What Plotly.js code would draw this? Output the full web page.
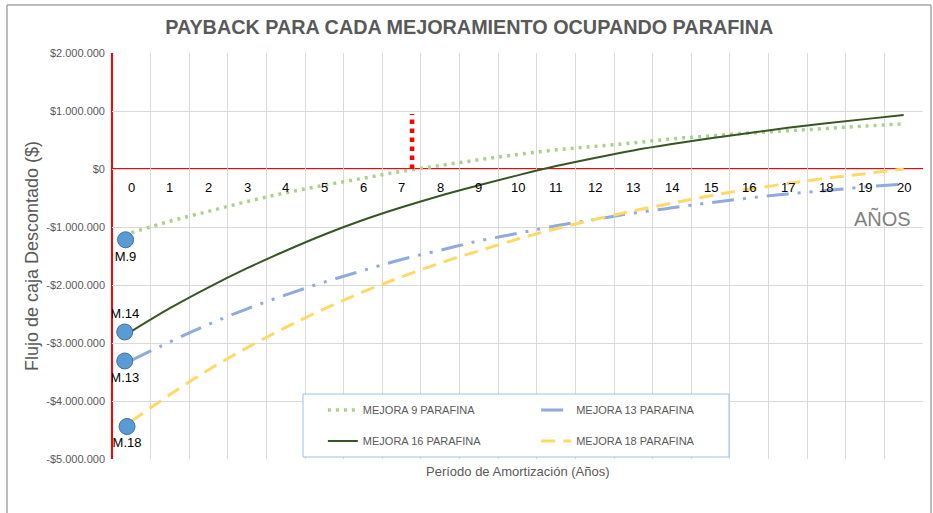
<!DOCTYPE html>
<html>
<head>
<meta charset="utf-8">
<script src="https://cdn.plot.ly/plotly-3.0.1.min.js"></script>
<style>html,body{margin:0;padding:0;background:#fff;}#chart{width:933px;height:513px;}</style>
</head>
<body>
<div id="chart"></div>
<script>
// ---- data ----
const years = [0,1,2,3,4,5,6,7,8,9,10,11,12,13,14,15,16,17,18,19,20];
const yearLabels = years.map(String);
const mejora9  = [-1.10e6,-0.90e6,-0.73e6,-0.56e6,-0.41e6,-0.28e6,-0.16e6,-0.04e6,0.06e6,0.16e6,0.25e6,0.33e6,0.39e6,0.45e6,0.52e6,0.57e6,0.62e6,0.66e6,0.70e6,0.74e6,0.78e6];
const mejora13 = [-3.30e6,-2.98e6,-2.68e6,-2.41e6,-2.17e6,-1.95e6,-1.75e6,-1.56e6,-1.40e6,-1.24e6,-1.11e6,-0.98e6,-0.87e6,-0.76e6,-0.67e6,-0.58e6,-0.50e6,-0.43e6,-0.37e6,-0.31e6,-0.26e6];
const mejora16 = [-2.80e6,-2.40e6,-2.04e6,-1.71e6,-1.41e6,-1.13e6,-0.88e6,-0.66e6,-0.46e6,-0.28e6,-0.11e6,0.05e6,0.19e6,0.32e6,0.43e6,0.53e6,0.62e6,0.71e6,0.79e6,0.86e6,0.93e6];
const mejora18 = [-4.35e6,-3.89e6,-3.46e6,-3.08e6,-2.73e6,-2.41e6,-2.12e6,-1.86e6,-1.62e6,-1.41e6,-1.21e6,-1.03e6,-0.87e6,-0.72e6,-0.59e6,-0.46e6,-0.35e6,-0.25e6,-0.16e6,-0.08e6,0.0];
const pointNames = ["M.9","M.14","M.13","M.18"];
const pointYears = [-0.15,-0.17,-0.17,-0.11];
const pointValues = [-1.22e6,-2.81e6,-3.31e6,-4.44e6];
const paybackYears = [7.27,7.27];
const paybackValues = [0,0.95e6];
const yTickVals = [2e6,1e6,0,-1e6,-2e6,-3e6,-4e6,-5e6];
const yTickText = ["$2.000.000","$1.000.000","$0","-$1.000.000","-$2.000.000","-$3.000.000","-$4.000.000","-$5.000.000"];
const boundaries = years.concat([21]).map(v => v - 0.5);

const FONT = "Liberation Sans, Arial, sans-serif";
const GRAY = "#595959";
const RED = "#FF0000";

const traces = [
  {x: years, y: mejora9, name: "MEJORA 9 PARAFINA", mode: "lines", line: {color: "#A9D18E", width: 3.5, dash: "3px,5px", shape: "spline"}, legend: "legend"},
  {x: years, y: mejora13, name: "MEJORA 13 PARAFINA", mode: "lines", line: {color: "#8FAADC", width: 3, dash: "22px,9px,3px,9px,3px,9px", shape: "spline"}, legend: "legend2"},
  {x: years, y: mejora16, name: "MEJORA 16 PARAFINA", mode: "lines", line: {color: "#375623", width: 2, shape: "spline"}, legend: "legend3"},
  {x: years, y: mejora18, name: "MEJORA 18 PARAFINA", mode: "lines", line: {color: "#FFD966", width: 3, dash: "14px,8px", shape: "spline"}, legend: "legend4"},
  {x: paybackYears, y: paybackValues, mode: "lines", line: {color: RED, width: 4.5, dash: "4.5px,4.5px"}, showlegend: false, hoverinfo: "skip"},
  {x: pointYears, y: pointValues, mode: "markers+text", text: pointNames,
   textposition: ["bottom center","top center","bottom center","bottom center"],
   textfont: {family: FONT, size: 13, color: "#000000"},
   marker: {size: 16, color: "#5B9BD5", line: {color: "#41719C", width: 1}},
   showlegend: false}
];

const legendCommon = {bgcolor: "rgba(0,0,0,0)", borderwidth: 0, font: {family: FONT, size: 11, color: GRAY}, xanchor: "left", yanchor: "middle", itemclick: false};

const yearAnnotations = years.map((v, i) => ({
  text: yearLabels[i], xref: "x", yref: "y", x: v, y: 0, yanchor: "middle", yshift: -18,
  showarrow: false, font: {family: FONT, size: 13, color: "#000000"}
}));

const layout = {
  width: 933, height: 513,
  margin: {l: 112, r: 10, t: 53, b: 54},
  paper_bgcolor: "#ffffff", plot_bgcolor: "#ffffff",
  font: {family: FONT, color: GRAY},
  title: {text: "<b>PAYBACK PARA CADA MEJORAMIENTO OCUPANDO PARAFINA</b>", font: {family: FONT, size: 19.8, color: GRAY}, x: 0.503, xref: "container", y: 0.947, yref: "container", yanchor: "middle"},
  xaxis: {
    range: [-0.5, 20.5], tickmode: "array", tickvals: boundaries,
    showgrid: true, gridcolor: "#D9D9D9", gridwidth: 1, showticklabels: false, ticks: "",
    zeroline: false, showline: false, fixedrange: true
  },
  yaxis: {
    range: [-5e6, 2e6], tickmode: "array", tickvals: yTickVals, ticktext: yTickText,
    showgrid: true, gridcolor: "#D9D9D9", gridwidth: 1,
    zeroline: false, showline: false,
    ticks: "", ticklabelstandoff: 6,
    tickfont: {family: FONT, size: 11, color: GRAY},
    title: {text: "Flujo de caja Descontado ($)", font: {family: FONT, size: 18, color: GRAY}, standoff: 2},
    fixedrange: true
  },
  legend:  Object.assign({x: 0.260, y: 0.1207}, legendCommon),
  legend2: Object.assign({x: 0.523, y: 0.1207}, legendCommon),
  legend3: Object.assign({x: 0.260, y: 0.0443}, legendCommon),
  legend4: Object.assign({x: 0.523, y: 0.0443}, legendCommon),
  shapes: [
    {type: "line", xref: "paper", yref: "y", x0: 0, x1: 1, y0: 0, y1: 0, line: {color: RED, width: 2}, layer: "between"},
    {type: "line", xref: "paper", yref: "paper", x0: 0, x1: 0, y0: 0, y1: 1, line: {color: RED, width: 2}, layer: "between"},
    {type: "rect", xref: "paper", yref: "paper", x0: 0.2355, x1: 0.7608, y0: 0.0049, y1: 0.160, fillcolor: "#ffffff", line: {color: "#9CC2E5", width: 1}, layer: "above"},
    {type: "line", xref: "paper", yref: "paper", x0: -0.1295, x1: -0.1295, y0: -0.2, y1: 1.118, line: {color: "#A6A6A6", width: 1.5}},
    {type: "line", xref: "paper", yref: "paper", x0: -0.1295, x1: 1.0099, y0: 1.118, y1: 1.118, line: {color: "#A6A6A6", width: 1.5}},
    {type: "line", xref: "paper", yref: "paper", x0: 1.0099, x1: 1.0099, y0: -0.2, y1: 1.118, line: {color: "#A6A6A6", width: 1.5}}
  ],
  annotations: yearAnnotations.concat([
    {text: "Período de Amortización (Años)", xref: "paper", yref: "paper", x: 0.5, y: 0, yanchor: "middle", yshift: -12, showarrow: false, font: {family: FONT, size: 13, color: GRAY}},
    {text: "AÑOS", xref: "x", yref: "y", x: 19.45, y: -0.85e6, showarrow: false, font: {family: FONT, size: 20, color: "#7F7F7F"}}
  ]),
  showlegend: true
};

Plotly.newPlot("chart", traces, layout, {displayModeBar: false, staticPlot: true});
</script>
</body>
</html>
